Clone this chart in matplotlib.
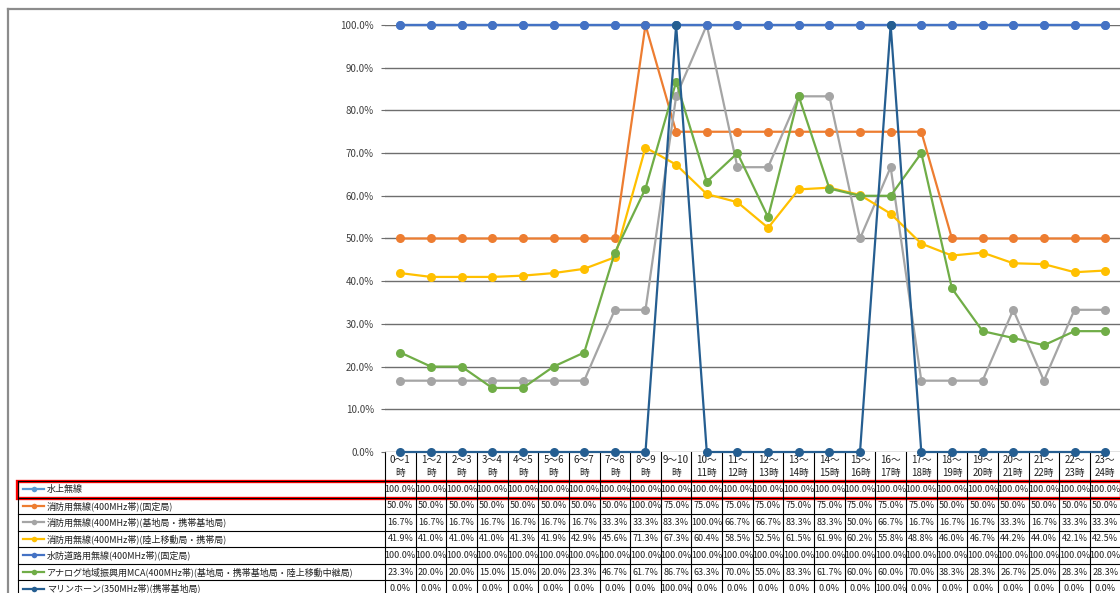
import matplotlib
matplotlib.use("Agg")
import matplotlib.pyplot as plt
import matplotlib.transforms as mtransforms
from matplotlib.patches import Rectangle

plt.rcParams['font.family'] = ['Noto Sans CJK JP', 'DejaVu Sans']

# hour slots
hours = list(range(24))
hour_labels = []
for h in hours:
    if h < 9:
        hour_labels.append(f"{h}～{h + 1}\n時")
    elif h == 9:
        hour_labels.append("9～10\n時")
    else:
        hour_labels.append(f"{h}～\n{h + 1}時")

series_names = [
    "水上無線",
    "消防用無線(400MHz帯)(固定局)",
    "消防用無線(400MHz帯)(基地局・携帯基地局)",
    "消防用無線(400MHz帯)(陸上移動局・携帯局)",
    "水防道路用無線(400MHz帯)(固定局)",
    "アナログ地域振興用MCA(400MHz帯)(基地局・携帯基地局・陸上移動中継局)",
    "マリンホーン(350MHz帯)(携帯基地局)",
]

suijo = [100.0] * 24
shobo_kotei = [50.0, 50.0, 50.0, 50.0, 50.0, 50.0, 50.0, 50.0, 100.0, 75.0, 75.0, 75.0,
               75.0, 75.0, 75.0, 75.0, 75.0, 75.0, 50.0, 50.0, 50.0, 50.0, 50.0, 50.0]
shobo_kichi = [16.7, 16.7, 16.7, 16.7, 16.7, 16.7, 16.7, 33.3, 33.3, 83.3, 100.0, 66.7,
               66.7, 83.3, 83.3, 50.0, 66.7, 16.7, 16.7, 16.7, 33.3, 16.7, 33.3, 33.3]
shobo_rikujo = [41.9, 41.0, 41.0, 41.0, 41.3, 41.9, 42.9, 45.6, 71.3, 67.3, 60.4, 58.5,
                52.5, 61.5, 61.9, 60.2, 55.8, 48.8, 46.0, 46.7, 44.2, 44.0, 42.1, 42.5]
suibo = [100.0] * 24
mca = [23.3, 20.0, 20.0, 15.0, 15.0, 20.0, 23.3, 46.7, 61.7, 86.7, 63.3, 70.0,
       55.0, 83.3, 61.7, 60.0, 60.0, 70.0, 38.3, 28.3, 26.7, 25.0, 28.3, 28.3]
marine = [0.0, 0.0, 0.0, 0.0, 0.0, 0.0, 0.0, 0.0, 0.0, 100.0, 0.0, 0.0,
          0.0, 0.0, 0.0, 0.0, 100.0, 0.0, 0.0, 0.0, 0.0, 0.0, 0.0, 0.0]

series_values = [suijo, shobo_kotei, shobo_kichi, shobo_rikujo, suibo, mca, marine]
colors = ["#5B9BD5", "#ED7D31", "#A5A5A5", "#FFC000", "#4472C4", "#70AD47", "#255E91"]

W, H = 1120, 593
fig = plt.figure(figsize=(W / 100, H / 100), dpi=100)

# overlay in pixel coords for frame + table
tab = fig.add_axes([0, 0, 1, 1])
tab.set_xlim(0, W)
tab.set_ylim(H, 0)
tab.axis('off')

ax_left, ax_right, ax_top, ax_bot = 385, 1120.5, 25, 452
ax = fig.add_axes([ax_left / W, 1 - ax_bot / H, (ax_right - ax_left) / W, (ax_bot - ax_top) / H])
ax.patch.set_alpha(0)

for name, vals, c in zip(series_names, series_values, colors):
    ax.plot(hours, vals, color=c, lw=1.6, marker='o', markersize=6.5,
            markeredgewidth=0, clip_on=False, zorder=3)

ax.set_xlim(-0.5, 23.5)
ax.set_ylim(0, 100)
ax.set_yticks(range(0, 101, 10))
ax.set_yticklabels([f"{v:.1f}%" for v in range(0, 101, 10)], fontsize=7, color="#404040")
ax.yaxis.grid(True, color="#6e6e6e", lw=1)
ax.set_axisbelow(True)
ax.set_xticks([])
ax.tick_params(axis='y', length=3, color="#6e6e6e", pad=5)
for s in ax.spines.values():
    s.set_visible(False)

# outer frame
tab.plot([8, W], [9, 9], color="#8c8c8c", lw=1.6)
tab.plot([8, 8], [9, H], color="#8c8c8c", lw=1.6)

# data table: x in category units, y in pixels
tr = mtransforms.blended_transform_factory(ax.transData, tab.transData)
head_top, head_bot = 452, 481
row_h = 16.55
n_rows = len(series_names)
table_bot = head_bot + row_h * n_rows

for k in range(25):
    xb = k - 0.5
    tab.plot([xb, xb], [head_top, table_bot], color="black", lw=0.8, transform=tr, clip_on=False)
for h, lab in zip(hours, hour_labels):
    top, bot = lab.split("\n")
    tab.text(h, 460, top, transform=tr, ha='center', va='center', fontsize=7, color="#202020")
    tab.text(h, 473, bot, transform=tr, ha='center', va='center', fontsize=7, color="#202020")

# horizontal rules
tab.plot([18, W], [head_bot, head_bot], color="black", lw=0.8)
for r in range(1, n_rows + 1):
    yy = head_bot + row_h * r
    tab.plot([18, W], [yy, yy], color="black", lw=0.8)
tab.plot([18, 18], [head_bot, table_bot], color="black", lw=0.8)

for r, (name, vals, c) in enumerate(zip(series_names, series_values, colors)):
    yc = head_bot + row_h * (r + 0.5)
    tab.plot([23, 44], [yc, yc], color=c, lw=1.6)
    tab.plot([33.5], [yc], color=c, marker='o', markersize=4, markeredgewidth=0)
    tab.text(47, yc, name, ha='left', va='center', fontsize=6.5, color="#202020")
    for h, v in zip(hours, vals):
        tab.text(h, yc, f"{v:.1f}%", transform=tr, ha='center', va='center',
                 fontsize=6.5, color="#202020")

# highlight around first row
tab.add_patch(Rectangle((17, head_bot), W - 16, row_h, fill=False, edgecolor="#FF0000", lw=2.4))

fig.savefig("out.png", dpi=100)
